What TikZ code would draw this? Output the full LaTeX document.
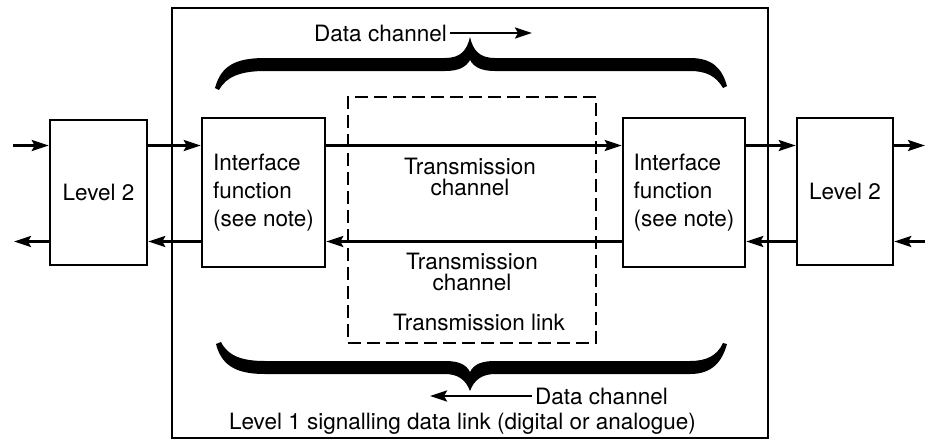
\documentclass[tikz,border=0pt]{standalone}
\usepackage{fontspec}
\setmainfont{TeX Gyre Heros}
\usetikzlibrary{arrows.meta}
\begin{document}
\begin{tikzpicture}[x=1pt,y=-1pt,
  box/.style={draw,line width=2.6pt,inner sep=0pt},
  lbl/.style={font=\fontsize{22.5}{27}\selectfont,inner sep=0pt},
  arr/.style={line width=2.6pt,-{Stealth[length=17pt,width=11pt,inset=3pt]}},
  brace/.style={fill=black}]
\useasboundingbox (0,0) rectangle (926,442);
% outer box
\node[draw,line width=2.2pt,minimum width=596pt,minimum height=430pt,inner sep=0pt] (outer) at (470,223) {};
% dashed transmission link box
\node[draw,line width=2.6pt,dash pattern=on 13pt off 6pt,minimum width=248pt,minimum height=246pt,inner sep=0pt] (link) at (472,220) {};
% boxes
\node[box,minimum width=97pt,minimum height=145pt] (L2L) at (98.5,192.5) {};
\node[lbl] at (L2L.center) {Level 2};
\node[box,minimum width=96pt,minimum height=147pt] (L2R) at (845,191.5) {};
\node[lbl] at (L2R.center) {Level 2};
\node[box,minimum width=123pt,minimum height=149pt] (IfL) at (263.5,192.5) {};
\node[lbl,font=\fontsize{22.5}{28}\selectfont,align=left] at (IfL.center) {Interface\\function\\(see note)};
\node[box,minimum width=122pt,minimum height=149pt] (IfR) at (684,192.5) {};
\node[lbl,font=\fontsize{22.5}{28}\selectfont,align=left] at (IfR.center) {Interface\\function\\(see note)};
% texts inside link
\node[lbl,font=\fontsize{22.5}{21}\selectfont,align=center] (tc1) at (470,177) {Transmission\\channel};
\node[lbl,font=\fontsize{22.5}{21}\selectfont,align=center] (tc2) at (472,271.5) {Transmission\\channel};
\node[lbl] (tl) at (479,322) {Transmission link};
% row coordinates
\coordinate (top) at (0,145.5);
\coordinate (bot) at (0,241.5);
\coordinate (inL) at (13,145.5);
\coordinate (outL) at (14,241.5);
\coordinate (outR) at (925,145.5);
\coordinate (inR) at (925,241.5);
% upper connectors
\draw[arr] (inL) -- (L2L.west |- top);
\draw[arr] (L2L.east |- top) -- (IfL.west |- top);
\draw[arr] (IfL.east |- top) -- (IfR.west |- top);
\draw[arr] (IfR.east |- top) -- (L2R.west |- top);
\draw[arr] (L2R.east |- top) -- (outR);
% lower connectors
\draw[arr] (inR) -- (L2R.east |- bot);
\draw[arr] (L2R.west |- bot) -- (IfR.east |- bot);
\draw[arr] (IfR.west |- bot) -- (IfL.east |- bot);
\draw[arr] (IfL.west |- bot) -- (L2L.east |- bot);
\draw[arr] (L2L.west |- bot) -- (outL);
% top brace
\fill[brace] (215,88) .. controls (221,66) and (235,58) .. (265,58) -- (445,58)
  .. controls (461,58) and (467,50) .. (470,37) .. controls (473,50) and (479,58) .. (495,58)
  -- (690,58) .. controls (712,58) and (722,68) .. (727,86) -- (723,88)
  .. controls (716,76) and (706,71) .. (690,71) -- (495,71)
  .. controls (481,71) and (474,67) .. (470,60) .. controls (466,67) and (459,71) .. (445,71)
  -- (265,71) .. controls (240,71) and (226,77) .. (219,90) -- cycle;
% bottom brace
\fill[brace] (216,344) .. controls (222,368) and (240,374) .. (265,374) -- (445,374)
  .. controls (458,374) and (466,380) .. (470,391) .. controls (474,380) and (482,374) .. (495,374)
  -- (690,374) .. controls (712,374) and (722,362) .. (727,344) -- (723,343)
  .. controls (717,356) and (706,361) .. (690,361) -- (495,361)
  .. controls (482,361) and (474,364) .. (470,372) .. controls (466,364) and (458,361) .. (445,361)
  -- (265,361) .. controls (242,361) and (228,356) .. (221,342) -- cycle;
% data channel labels
\node[lbl,anchor=east] (dc1) at (447,33) {Data channel};
\coordinate (dc1e) at (532,33);
\draw[arr] (dc1.east) ++(3,0) -- (dc1e);
\node[lbl,anchor=west] (dc2) at (535,396) {Data channel};
\coordinate (dc2e) at (430,396);
\draw[arr] (dc2.west) ++(-3,0) -- (dc2e);
\node[lbl] (l1) at (462.5,424) {Level 1 signalling data link (digital or analogue)};
\end{tikzpicture}
\end{document}
